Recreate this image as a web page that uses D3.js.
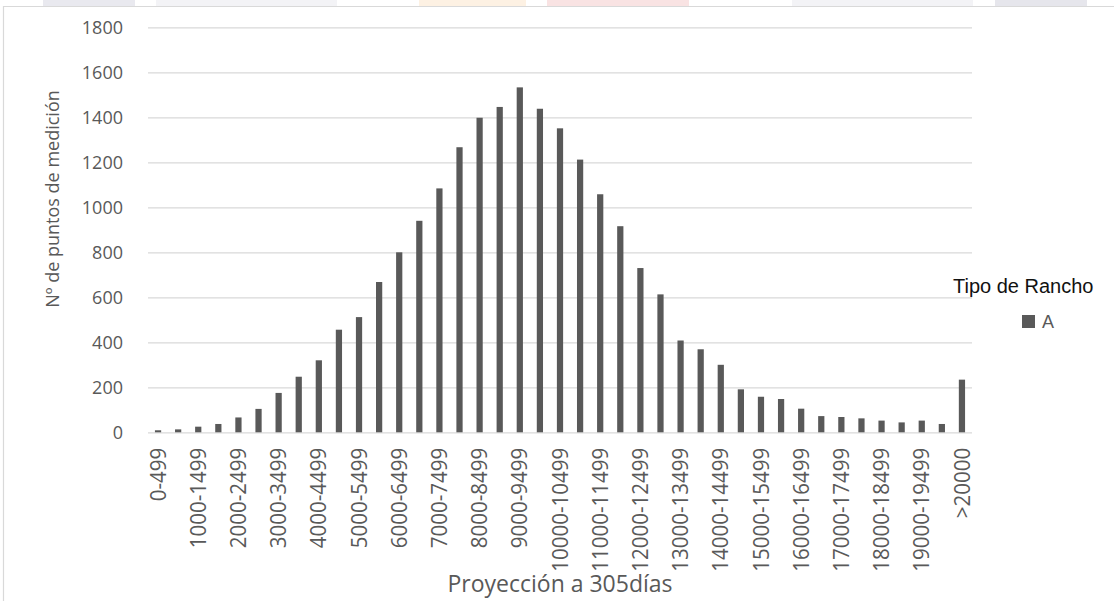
<!DOCTYPE html>
<html>
<head>
<meta charset="utf-8">
<script src="https://cdn.jsdelivr.net/npm/d3@7"></script>
<style>
  html, body { margin: 0; padding: 0; background: #fff; }
  svg { display: block; }
</style>
</head>
<body>
<svg id="chart" width="1114" height="601"></svg>
<script>
const categories = ["0-499","500-999","1000-1499","1500-1999","2000-2499","2500-2999",
  "3000-3499","3500-3999","4000-4499","4500-4999","5000-5499","5500-5999",
  "6000-6499","6500-6999","7000-7499","7500-7999","8000-8499","8500-8999",
  "9000-9499","9500-9999","10000-10499","10500-10999","11000-11499","11500-11999",
  "12000-12499","12500-12999","13000-13499","13500-13999","14000-14499","14500-14999",
  "15000-15499","15500-15999","16000-16499","16500-16999","17000-17499","17500-17999",
  "18000-18499","18500-18999","19000-19499","19500-19999",">20000"];
const valuesA = [9, 13, 25, 37, 66, 104, 175, 247, 320, 456, 512, 668,
  800, 940, 1084, 1267, 1398, 1446, 1533, 1438, 1351, 1212, 1058, 916,
  730, 613, 408, 369, 300, 191, 158, 148, 105, 72, 68, 62,
  52, 44, 52, 37, 234];
const yTicks = [0, 200, 400, 600, 800, 1000, 1200, 1400, 1600, 1800];
const seriesName = "A";
const legendTitle = "Tipo de Rancho";
const xTitle = "Proyección a 305días";
const yTitle = "Nº de puntos de medición";

const svg = d3.select("#chart");
const W = 1114, H = 601;
const plot = { left: 148, right: 972, top: 27.3, bottom: 432.3 };
const textGray = "#595959";
const barColor = "#595959";
const gridColor = "#d9d9d9";

// decorative faint header strip and frame
const strips = [
  [43, 135, "#e9e9ef"], [156, 337, "#f3f3f6"], [419, 526, "#fdf1e3"],
  [547, 689, "#f9e3e3"], [792, 973, "#f3f3f6"], [995, 1087, "#e6e6ec"]
];
svg.selectAll("rect.strip").data(strips).join("rect")
  .attr("class", "strip")
  .attr("x", d => d[0]).attr("y", 0)
  .attr("width", d => d[1] - d[0]).attr("height", 6)
  .attr("fill", d => d[2]);
svg.append("path")
  .attr("d", `M3.5,${H} L3.5,6.5 L${W},6.5`)
  .attr("fill", "none").attr("stroke", "#d9d9d9").attr("stroke-width", 1.2);

const x = d3.scaleBand()
  .domain(categories)
  .range([plot.left, plot.right])
  .paddingInner(0.69)
  .paddingOuter(0.345);

const y = d3.scaleLinear()
  .domain([0, 1800])
  .range([plot.bottom, plot.top]);

// gridlines + y tick labels
const yAxis = d3.axisLeft(y)
  .tickValues(yTicks)
  .tickFormat(d3.format("d"))
  .tickSize(-(plot.right - plot.left))
  .tickPadding(25);
const gy = svg.append("g")
  .attr("transform", `translate(${plot.left},0)`)
  .call(yAxis);
gy.select(".domain").remove();
gy.selectAll(".tick line").attr("stroke", gridColor).attr("stroke-width", 1.3);
gy.selectAll(".tick text")
  .attr("fill", textGray)
  .attr("font-family", "'Open Sans', sans-serif")
  .attr("font-size", 18)
  .attr("dy", "0.36em");

// bars
svg.append("g").selectAll("rect.bar")
  .data(categories.map((c, i) => ({ c, v: valuesA[i] })))
  .join("rect")
  .attr("class", "bar")
  .attr("x", d => x(d.c))
  .attr("width", x.bandwidth())
  .attr("y", d => y(d.v))
  .attr("height", d => y(0) - y(d.v))
  .attr("fill", barColor);

// x axis labels (every other category)
const xAxis = d3.axisBottom(x)
  .tickValues(categories.filter((c, i) => i % 2 === 0))
  .tickSize(0)
  .tickPadding(0);
const gx = svg.append("g")
  .attr("transform", `translate(0,${plot.bottom})`)
  .call(xAxis);
gx.select(".domain").remove();
const xt = gx.selectAll(".tick text")
  .attr("fill", textGray)
  .attr("font-family", "'Open Sans', sans-serif")
  .attr("font-size", 21)
  .attr("text-anchor", "end")
  .attr("x", 0)
  .attr("y", 0)
  .attr("dy", "0.36em");
// stretch labels along their length to match the reference proportions
let refLen = 0;
xt.each(function(d) { if (d === "10000-10499") refLen = this.getComputedTextLength(); });
const sx = refLen > 0 ? Math.min(1.4, Math.max(0.8, 124 / refLen)) : 1;
xt.attr("transform", `translate(0,15.5) rotate(-90) scale(${sx},1)`);

// axis titles
svg.append("text")
  .attr("x", (plot.left + plot.right) / 2)
  .attr("y", 591.5)
  .attr("text-anchor", "middle")
  .attr("fill", textGray)
  .attr("font-family", "'Open Sans', sans-serif")
  .attr("font-size", 23)
  .text(xTitle);

svg.append("text")
  .attr("transform", "translate(59,199) rotate(-90)")
  .attr("text-anchor", "middle")
  .attr("fill", textGray)
  .attr("font-family", "'Open Sans', sans-serif")
  .attr("font-size", 18)
  .text(yTitle);

// legend
svg.append("text")
  .attr("x", 953)
  .attr("y", 293)
  .attr("fill", "#111")
  .attr("font-family", "'Liberation Sans', Arial, sans-serif")
  .attr("font-size", 20)
  .text(legendTitle);
const lg = svg.append("g").attr("transform", "translate(1022,315)");
lg.append("rect").attr("width", 13).attr("height", 13).attr("fill", barColor);
lg.append("text")
  .attr("x", 20).attr("y", 13)
  .attr("fill", textGray)
  .attr("font-family", "'Liberation Sans', Arial, sans-serif")
  .attr("font-size", 18)
  .text(seriesName);
</script>
</body>
</html>
